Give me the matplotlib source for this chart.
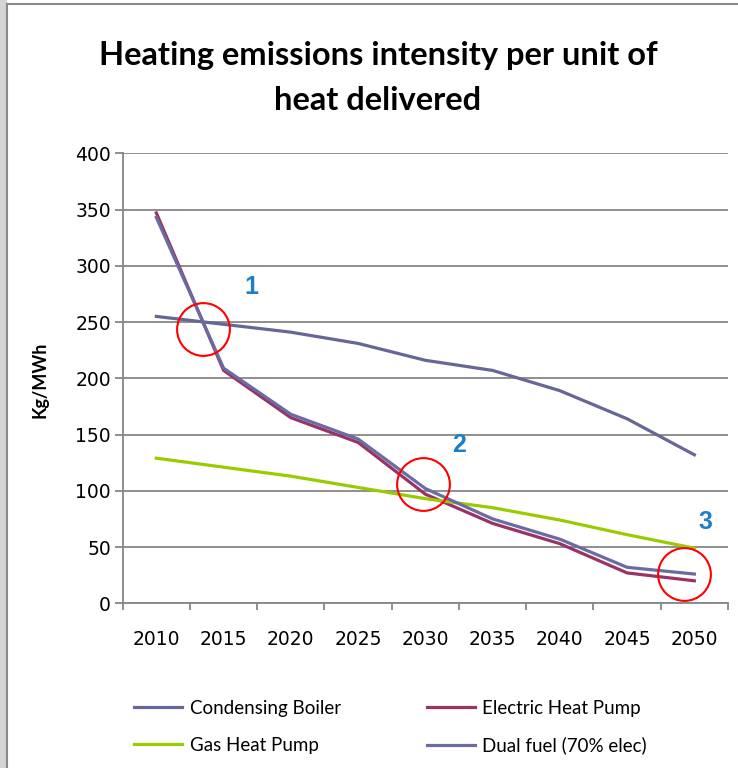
import matplotlib
matplotlib.use("Agg")
import matplotlib.pyplot as plt
from matplotlib.patches import Rectangle
from matplotlib.lines import Line2D

# ---------------------------------------------------------------------------
# Data (kg/MWh)
# ---------------------------------------------------------------------------
years = ["2010", "2015", "2020", "2025", "2030", "2035", "2040", "2045", "2050"]
condensing_boiler = [255, 248, 241, 231, 216, 207, 189, 164, 132]
electric_heat_pump = [347, 207, 165, 143, 97, 71, 53, 27, 20]
gas_heat_pump = [129, 121, 113, 103, 93, 85, 74, 61, 49]
dual_fuel = [343, 209, 168, 146, 102, 75, 57, 32, 26]

# highlighted crossover points and their numbers
circle_x = [0.69, 3.97, 7.84]
circle_y = [244, 106, 26]
note_labels = ["1", "2", "3"]
note_x = [1.42, 4.50, 8.17]
note_y = [281, 141, 72]

W, H = 738, 768
fig = plt.figure(figsize=(W / 100, H / 100), dpi=100)

# page edge / chart border like the screenshot
fig.add_artist(Rectangle((0, 0), 7 / W, 1, transform=fig.transFigure,
                         facecolor="#d4d4d4", edgecolor="none"))
fig.add_artist(Line2D([7 / W, 7 / W], [0, 1 - 4 / H], transform=fig.transFigure,
                      color="#8a8a8a", lw=1.5))
fig.add_artist(Line2D([7 / W, 1], [1 - 4 / H, 1 - 4 / H], transform=fig.transFigure,
                      color="#8a8a8a", lw=1.5))

left, right, top, bottom = 122.7, 728, 153.3, 603.3
ax = fig.add_axes([left / W, 1 - bottom / H, (right - left) / W, (bottom - top) / H])

x = list(range(len(years)))
grey = "#868686"

ax.plot(x, condensing_boiler, color="#666699", lw=2.3, label="Condensing Boiler",
        solid_joinstyle="round")
ax.plot(x, electric_heat_pump, color="#993366", lw=2.3, label="Electric Heat Pump",
        solid_joinstyle="round")
ax.plot(x, gas_heat_pump, color="#99CC00", lw=2.3, label="Gas Heat Pump",
        solid_joinstyle="round")
ax.plot(x, dual_fuel, color="#6B6BA3", lw=2.3, label="Dual fuel (70% elec)",
        solid_joinstyle="round")

ax.plot(circle_x, circle_y, linestyle="none", marker="o", markersize=38,
        markerfacecolor="none", markeredgecolor="#FF0000", markeredgewidth=1.5)
for lab, nx, ny in zip(note_labels, note_x, note_y):
    ax.text(nx, ny, lab, color="#1F7FC4", fontsize=18, fontweight="bold",
            family="Liberation Sans", ha="center", va="center")

ax.set_xlim(-0.5, len(years) - 0.5)
ax.set_ylim(0, 400)
ax.set_yticks(range(0, 401, 50))
ax.set_xticks(x)
ax.set_xticklabels(years)
ax.set_xticks([i - 0.5 for i in range(len(years) + 1)], minor=True)

ax.grid(axis="y", color=grey, lw=1.3)
ax.set_axisbelow(True)
for s in ["top", "right"]:
    ax.spines[s].set_visible(False)
for s in ["left", "bottom"]:
    ax.spines[s].set_color(grey)
    ax.spines[s].set_linewidth(1.3)

ax.tick_params(axis="y", length=5.5, width=1.3, color=grey, pad=3,
               labelsize=13.5, labelcolor="black")
ax.tick_params(axis="x", which="major", length=0, pad=19, labelsize=13.5)
ax.tick_params(axis="x", which="minor", length=5, width=1.3, color=grey)
for t in ax.get_xticklabels() + ax.get_yticklabels():
    t.set_family("DejaVu Sans")

# title and axis label
fig.text(378 / W, 1 - 55 / H, "Heating emissions intensity per unit of",
         ha="center", va="center", fontsize=23.5, fontweight="bold", family="Lato")
fig.text(378 / W, 1 - 100 / H, "heat delivered",
         ha="center", va="center", fontsize=23.5, fontweight="bold", family="Lato")
fig.text(40 / W, 1 - 380 / H, "Kg/MWh", rotation=90, ha="center", va="center",
         fontsize=13, fontweight="bold", family="Lato")

# legend: row 1 Condensing / Electric, row 2 Gas / Dual
handles, labels = ax.get_legend_handles_labels()
order = [0, 2, 1, 3]
fig.legend([handles[i] for i in order], [labels[i] for i in order],
           loc="upper left", bbox_to_anchor=(134 / W, 1 - 700 / H), ncol=2,
           frameon=False, prop={"family": "Lato", "size": 13.5},
           handlelength=2.56, handletextpad=0.4, labelspacing=1.05,
           columnspacing=4.6, borderaxespad=0, borderpad=0)

fig.savefig("out.png", dpi=100)
